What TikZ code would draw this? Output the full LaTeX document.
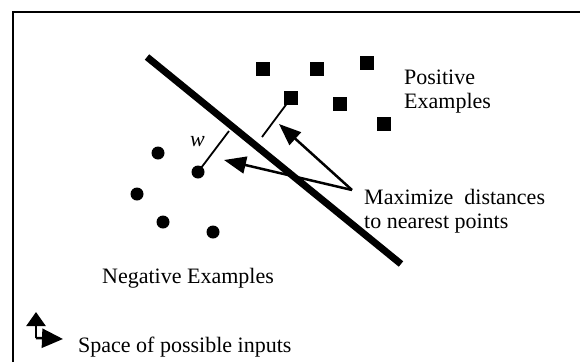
\documentclass[tikz,border=0pt]{standalone}
\usepackage{fontspec}
\setmainfont{Liberation Serif}
\usetikzlibrary{arrows.meta, positioning, calc}

\tikzset{
  possq/.style={fill=black, minimum size=13.5pt, inner sep=0pt},
  negdot/.style={circle, fill=black, minimum size=13pt, inner sep=0pt},
  lbl/.style={font=\fontsize{22}{26}\selectfont, inner sep=0pt, anchor=base west},
  bigtip/.style={-{Triangle[length=22pt,width=17pt]}}
}

\begin{document}
\begin{tikzpicture}[x=1pt, y=-1pt]
  \useasboundingbox (0,0) rectangle (580,362);
  % frame (cut on the right and at the bottom)
  \draw[line width=2.6pt] (13,362) -- (13,12) -- (580,12);

  % positive examples
  \foreach \n/\x/\y in {1/263/69, 2/317/69, 3/367/63, 4/291/98, 5/340/104, 6/384/124} {
    \node[possq] (p\n) at (\x,\y) {};
  }
  % negative examples
  \foreach \n/\x/\y in {1/158/153, 2/198/172, 3/137/194, 4/163/222, 5/213/232} {
    \node[negdot] (n\n) at (\x,\y) {};
  }

  % separating line
  \coordinate (sa) at (147,57);
  \coordinate (sb) at (401,264);
  \draw[line width=7pt] (sa) -- (sb);

  % margins
  \coordinate (wm) at (229,131);
  \coordinate (pm) at (262,137);
  \draw[line width=1.8pt] (n2.center) -- (wm);
  \draw[line width=1.8pt] (p4.center) -- (pm);
  \node[lbl, font=\fontsize{22}{26}\selectfont\itshape] (w) at (190,146) {w};

  % labels
  \node[lbl] (pos) at (404,84) {Positive};
  \node[lbl] (pos2) at (404,108) {Examples};
  \node[lbl] (max) at (364,204) {Maximize\ \ distances};
  \node[lbl] (max2) at (364,228) {to nearest points};
  \node[lbl] (neg) at (102,283) {Negative Examples};
  \node[lbl] (space) at (78,352) {Space of possible inputs};

  % arrows to the margins
  \coordinate (apex) at (352,190);
  \coordinate (ta) at (224,160);
  \coordinate (tb) at (279,124);
  \draw[line width=2.5pt, bigtip] (apex) -- (ta);
  \draw[line width=2.5pt, bigtip] (apex) -- (tb);

  % axes icon
  \coordinate (o) at (36,338);
  \coordinate (oy) at (36,312);
  \coordinate (ox) at (63,339);
  \draw[line width=2.5pt, -{Triangle[length=14pt,width=19pt]}] (o) -- (oy);
  \draw[line width=2.5pt, -{Triangle[length=21pt,width=19pt]}] (o) -- (ox);
\end{tikzpicture}
\end{document}
